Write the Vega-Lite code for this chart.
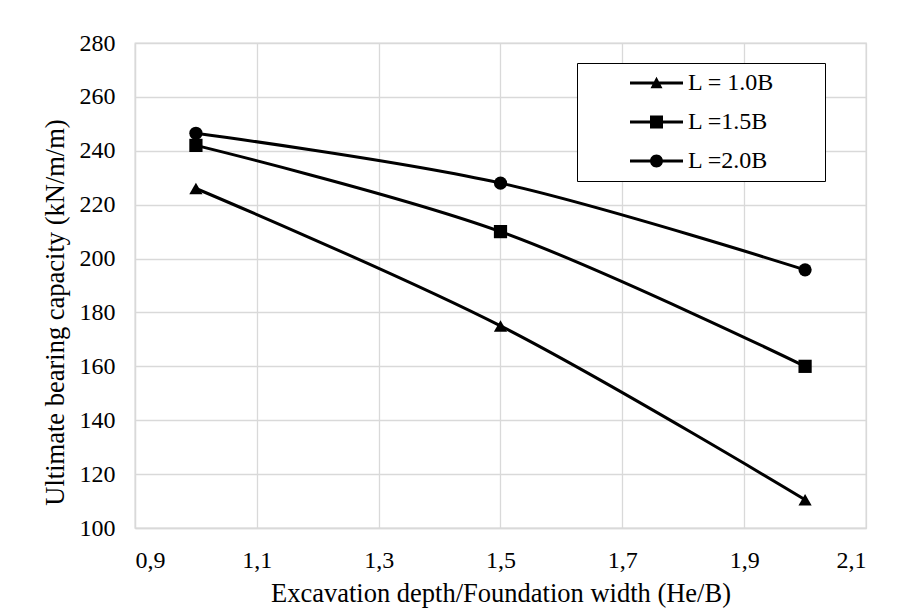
{
  "$schema": "https://vega.github.io/schema/vega-lite/v6.json",
  "width": 731,
  "height": 485,
  "autosize": {"type": "none"},
  "padding": {"left": 135, "top": 43, "right": 40, "bottom": 82},
  "background": "white",
  "config": {
    "locale": {"number": {"decimal": ",", "thousands": ".", "grouping": [3], "currency": ["", ""]}},
    "font": "Liberation Serif",
    "view": {"stroke": "#d9d9d9", "strokeWidth": 1.3}
  },
  "data": {
    "values": [
      {"ratio": 1.0, "capacity": 226, "series": "L = 1.0B"},
      {"ratio": 1.5, "capacity": 175, "series": "L = 1.0B"},
      {"ratio": 2.0, "capacity": 110.5, "series": "L = 1.0B"},
      {"ratio": 1.0, "capacity": 242, "series": "L =1.5B"},
      {"ratio": 1.5, "capacity": 210, "series": "L =1.5B"},
      {"ratio": 2.0, "capacity": 160, "series": "L =1.5B"},
      {"ratio": 1.0, "capacity": 246.5, "series": "L =2.0B"},
      {"ratio": 1.5, "capacity": 228, "series": "L =2.0B"},
      {"ratio": 2.0, "capacity": 195.8, "series": "L =2.0B"}
    ]
  },
  "encoding": {
    "x": {
      "field": "ratio",
      "type": "quantitative",
      "scale": {"domain": [0.9, 2.1], "nice": false, "zero": false},
      "axis": {
        "values": [0.9, 1.1, 1.3, 1.5, 1.7, 1.9, 2.1],
        "format": ".1f",
        "labelFont": "Liberation Serif",
        "labelFontSize": 24,
        "labelColor": "black",
        "labelPadding": 20,
        "titleFont": "Liberation Serif",
        "titleFontSize": 26.5,
        "titleFontWeight": "normal",
        "titleColor": "black",
        "titlePadding": 8,
        "gridColor": "#d9d9d9",
        "gridWidth": 1.3,
        "domainColor": "#d9d9d9",
        "domainWidth": 1.3,
        "ticks": false,
        "title": "Excavation depth/Foundation width (He/B)"
      }
    },
    "y": {
      "field": "capacity",
      "type": "quantitative",
      "scale": {"domain": [100, 280], "nice": false, "zero": false},
      "axis": {
        "values": [100, 120, 140, 160, 180, 200, 220, 240, 260, 280],
        "format": "d",
        "labelFont": "Liberation Serif",
        "labelFontSize": 24,
        "labelColor": "black",
        "labelPadding": 20,
        "titleFont": "Liberation Serif",
        "titleFontSize": 26.5,
        "titleFontWeight": "normal",
        "titleColor": "black",
        "titlePadding": 10,
        "titleY": 269,
        "gridColor": "#d9d9d9",
        "gridWidth": 1.3,
        "domainColor": "#d9d9d9",
        "domainWidth": 1.3,
        "ticks": false,
        "title": "Ultimate bearing capacity (kN/m/m)"
      }
    }
  },
  "layer": [
    {
      "mark": {"type": "line", "interpolate": "catmull-rom", "color": "black", "strokeWidth": 3},
      "encoding": {"detail": {"field": "series"}}
    },
    {
      "mark": {"type": "point", "filled": true, "color": "black", "opacity": 0, "size": 10},
      "encoding": {
        "shape": {
          "field": "series",
          "type": "nominal",
          "scale": {
            "domain": ["L = 1.0B", "L =1.5B", "L =2.0B"],
            "range": [
              "M-1,-0.057H1V0.057H-1ZM-0.226,0.2L0,-0.24L0.226,0.2Z",
              "M-1,-0.057H1V0.057H-1ZM-0.245,-0.245H0.245V0.245H-0.245Z",
              "M-1,-0.057H1V0.057H-1ZM0.245,0A0.245,0.245,0,1,1,-0.245,0A0.245,0.245,0,1,1,0.245,0Z"
            ]
          },
          "legend": {
            "title": "\u00a0",
            "titleOrient": "right",
            "titlePadding": 43,
            "titleFontSize": 14,
            "orient": "none",
            "legendX": 442,
            "legendY": 20,
            "padding": 8,
            "symbolOffset": 44,
            "symbolSize": 2809,
            "symbolOpacity": 1,
            "symbolFillColor": "black",
            "clipHeight": 24,
            "rowPadding": 15,
            "labelOffset": 4,
            "labelFont": "Liberation Serif",
            "labelFontSize": 24,
            "labelColor": "black",
            "strokeColor": "black",
            "fillColor": "white"
          }
        }
      }
    },
    {
      "mark": {"type": "point", "filled": true, "color": "black", "opacity": 1, "size": 175},
      "encoding": {
        "shape": {
          "field": "series",
          "type": "nominal",
          "scale": {"domain": ["L = 1.0B", "L =1.5B", "L =2.0B"], "range": ["triangle-up", "square", "circle"]},
          "legend": null
        }
      }
    }
  ],
  "resolve": {"scale": {"shape": "independent"}, "legend": {"shape": "independent"}}
}
